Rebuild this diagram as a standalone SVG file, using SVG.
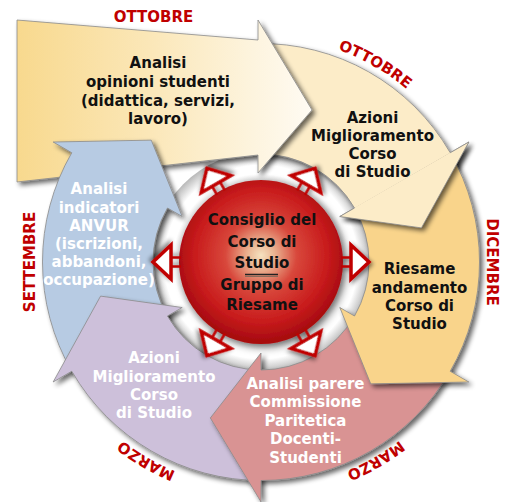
<svg xmlns="http://www.w3.org/2000/svg" width="509" height="502" viewBox="0 0 509 502">
<defs>
<style>
.t{font-family:"DejaVu Sans",Verdana,sans-serif;font-weight:bold;font-size:15px;text-anchor:middle}
.dk{fill:#111}
.wh{fill:#fff}
.mo{fill:#c00000}
.arr{stroke:#8a8a8a;stroke-width:0.8;filter:url(#sh)}
.ra{filter:url(#sh2)}
.ra path.tri{fill:#fff;stroke:#c00000;stroke-width:3.5;stroke-linejoin:miter}
.ra path.stem{fill:none;stroke:#c00000;stroke-width:2.5}
</style>
<filter id="sh" x="-15%" y="-15%" width="135%" height="135%">
<feGaussianBlur in="SourceAlpha" stdDeviation="2.5"/>
<feOffset dx="2.5" dy="2.5" result="b"/>
<feComponentTransfer><feFuncA type="linear" slope="0.6"/></feComponentTransfer>
<feMerge><feMergeNode/><feMergeNode in="SourceGraphic"/></feMerge>
</filter>
<filter id="shonly" x="-15%" y="-15%" width="135%" height="135%">
<feGaussianBlur in="SourceAlpha" stdDeviation="2.5"/>
<feOffset dx="2.5" dy="2.5"/>
<feComponentTransfer><feFuncA type="linear" slope="0.6"/></feComponentTransfer>
</filter>
<filter id="sh2" x="-30%" y="-30%" width="170%" height="170%">
<feGaussianBlur in="SourceAlpha" stdDeviation="2"/>
<feOffset dx="2" dy="2"/>
<feComponentTransfer><feFuncA type="linear" slope="0.5"/></feComponentTransfer>
<feMerge><feMergeNode/><feMergeNode in="SourceGraphic"/></feMerge>
</filter>
<filter id="sh3" x="-20%" y="-20%" width="150%" height="150%">
<feGaussianBlur in="SourceAlpha" stdDeviation="4"/>
<feOffset dx="3" dy="3"/>
<feComponentTransfer><feFuncA type="linear" slope="0.55"/></feComponentTransfer>
<feMerge><feMergeNode/><feMergeNode in="SourceGraphic"/></feMerge>
</filter>
<clipPath id="cpHead">
<path d="M 261 262 L 607.4 62 L 607.4 600 L 261 600 Z"/>
</clipPath>
<clipPath id="cpOr">
<path d="M 261 262 L 607.4 62 L 700 62 L 700 700 L 461 608.4 Z"/>
</clipPath>
<linearGradient id="gy" x1="17" y1="0" x2="312" y2="0" gradientUnits="userSpaceOnUse">
<stop offset="0" stop-color="#f8d98e"/>
<stop offset="0.45" stop-color="#fbe7b8"/>
<stop offset="0.8" stop-color="#fdf4de"/>
<stop offset="1" stop-color="#fffbf3"/>
</linearGradient>
<radialGradient id="gring" cx="261" cy="262" r="110" gradientUnits="userSpaceOnUse">
<stop offset="0.72" stop-color="#d8d8d8"/>
<stop offset="0.8" stop-color="#ffffff"/>
<stop offset="0.88" stop-color="#ffffff"/>
<stop offset="1" stop-color="#b8b8b8"/>
</radialGradient>
<radialGradient id="gsph" cx="0.5" cy="0.46" r="0.52">
<stop offset="0" stop-color="#f5e2c0"/>
<stop offset="0.16" stop-color="#eab391"/>
<stop offset="0.42" stop-color="#d8473b"/>
<stop offset="0.78" stop-color="#c81b1c"/>
<stop offset="1" stop-color="#a80c10"/>
</radialGradient>
<path id="pOtt" d="M 280.70 36.86 A 226 226 0 0 1 446.13 132.37"/>
<path id="pMar1" d="M 446.13 391.63 A 226 226 0 0 1 280.70 487.14"/>
<path id="pMar2" d="M 241.30 487.14 A 226 226 0 0 1 75.87 391.63"/>
</defs>
<rect width="509" height="502" fill="#fff"/>

<g id="hub-ring">
<circle cx="261" cy="262" r="110" fill="url(#gring)"/>
</g>

<g id="node-azioni-ottobre">
<path class="arr" fill="#fcecc8" d="M 257.19 43.53 A 218.5 218.5 0 0 1 450.23 152.75 L 468.85 142 L 421.42 227.9 L 339.81 216.5 L 354.53 208 A 108 108 0 0 0 259.12 154.02 Z"/>
</g>

<g id="node-opinioni">
<path class="arr" fill="url(#gy)" d="M 17 20 L 258 40 L 258 20 L 312 110 L 258 173 L 258 155 L 17 182 Z"/>
<text class="t dk"><tspan x="158" y="68">Analisi</tspan><tspan x="158" y="87">opinioni studenti</tspan><tspan x="158" y="105.5">(didattica, servizi,</tspan><tspan x="158" y="124">lavoro)</tspan></text>
</g>

<g id="node-anvur">
<path class="arr" fill="#b7cbe3" d="M 71.77 371.25 A 218.5 218.5 0 0 1 71.77 152.75 L 53.15 142 L 151.26 140.13 L 182.19 216.5 L 167.47 208 A 108 108 0 0 0 167.47 316 Z"/>
<text class="t wh"><tspan x="99" y="194">Analisi</tspan><tspan x="99" y="212.5">indicatori</tspan><tspan x="99" y="231">ANVUR</tspan><tspan x="99" y="249">(iscrizioni,</tspan><tspan x="99" y="267">abbandoni,</tspan><tspan x="99" y="285">occupazione)</tspan></text>
</g>

<g id="node-azioni-marzo">
<path class="arr" fill="#cdc0da" d="M 261 480.5 A 218.5 218.5 0 0 1 71.77 371.25 L 53.15 382 L 100.58 296.1 L 182.19 307.5 L 167.47 316 A 108 108 0 0 0 261 370 Z"/>
<text class="t wh"><tspan x="154" y="363">Azioni</tspan><tspan x="154" y="382">Miglioramento</tspan><tspan x="154" y="400">Corso</tspan><tspan x="154" y="418">di Studio</tspan></text>
</g>

<g id="node-commissione">
<path class="arr" fill="#d99393" d="M 450.23 371.25 A 218.5 218.5 0 0 1 261 480.5 L 261 502 L 210.32 417.97 L 261 353 L 261 370 A 108 108 0 0 0 354.53 316 Z"/>
<text class="t wh"><tspan x="305.5" y="389">Analisi parere</tspan><tspan x="305.5" y="407">Commissione</tspan><tspan x="305.5" y="426">Paritetica</tspan><tspan x="305.5" y="444">Docenti-</tspan><tspan x="305.5" y="463">Studenti</tspan></text>
</g>

<g id="node-riesame" clip-path="url(#cpOr)">
<path class="arr" fill="#f9d48b" d="M 450.23 152.75 A 218.5 218.5 0 0 1 450.23 371.25 L 468.85 382 L 370.74 383.87 L 339.81 307.5 L 354.53 316 A 108 108 0 0 0 354.53 208 Z"/>
<text class="t dk"><tspan x="419.5" y="274">Riesame</tspan><tspan x="419.5" y="292.5">andamento</tspan><tspan x="419.5" y="311">Corso di</tspan><tspan x="419.5" y="329">Studio</tspan></text>
</g>

<g id="node-azioni-ottobre-head">
<g clip-path="url(#cpHead)">
<path fill="#000" filter="url(#shonly)" d="M 450.23 152.75 L 468.85 142 L 421.42 227.9 L 339.81 216.5 L 354.53 208 Z"/>
</g>
<path fill="#fcecc8" d="M 449.6 153.1 L 450.23 152.75 L 468.85 142 L 421.42 227.9 L 339.81 216.5 L 354.53 208 L 354.9 207.6 Z"/>
<path fill="none" stroke="#8a8a8a" stroke-width="0.8" d="M 450.23 152.75 L 468.85 142 L 421.42 227.9 L 339.81 216.5 L 354.53 208"/>
<text class="t dk"><tspan x="372.5" y="123">Azioni</tspan><tspan x="372.5" y="141">Miglioramento</tspan><tspan x="372.5" y="159">Corso</tspan><tspan x="372.5" y="177">di Studio</tspan></text>
</g>

<g id="node-consiglio">
<circle cx="261" cy="262" r="82" fill="url(#gsph)" filter="url(#sh3)"/>
<text class="t dk"><tspan x="262" y="225">Consiglio del</tspan><tspan x="262" y="247">Corso di</tspan><tspan x="262" y="268">Studio</tspan><tspan x="262" y="290">Gruppo di</tspan><tspan x="262" y="310">Riesame</tspan></text>
<line x1="245" y1="274.5" x2="278" y2="274.5" stroke="#222" stroke-width="1.6"/>
<line x1="245" y1="276.5" x2="278" y2="276.5" stroke="#8a6a5a" stroke-width="1"/>
</g>

<g id="connectors">
<g class="ra" transform="translate(261 262) rotate(0)"><path class="stem" d="M 80 -4.5 H 90 M 80 4.5 H 90"/><path class="tri" d="M 90 -17 L 108 0 L 90 17 Z"/></g>
<g class="ra" transform="translate(261 262) rotate(60)"><path class="stem" d="M 80 -4.5 H 90 M 80 4.5 H 90"/><path class="tri" d="M 90 -17 L 108 0 L 90 17 Z"/></g>
<g class="ra" transform="translate(261 262) rotate(120)"><path class="stem" d="M 80 -4.5 H 90 M 80 4.5 H 90"/><path class="tri" d="M 90 -17 L 108 0 L 90 17 Z"/></g>
<g class="ra" transform="translate(261 262) rotate(180)"><path class="stem" d="M 80 -4.5 H 90 M 80 4.5 H 90"/><path class="tri" d="M 90 -17 L 108 0 L 90 17 Z"/></g>
<g class="ra" transform="translate(261 262) rotate(240)"><path class="stem" d="M 80 -4.5 H 90 M 80 4.5 H 90"/><path class="tri" d="M 90 -17 L 108 0 L 90 17 Z"/></g>
<g class="ra" transform="translate(261 262) rotate(300)"><path class="stem" d="M 80 -4.5 H 90 M 80 4.5 H 90"/><path class="tri" d="M 90 -17 L 108 0 L 90 17 Z"/></g>
</g>

<g id="months">
<text class="t mo" x="153.5" y="22">OTTOBRE</text>
<text class="t mo"><textPath href="#pOtt" startOffset="50%">OTTOBRE</textPath></text>
<text class="t mo" transform="translate(487 262) rotate(90)" x="0" y="0">DICEMBRE</text>
<text class="t mo"><textPath href="#pMar1" startOffset="50%">MARZO</textPath></text>
<text class="t mo"><textPath href="#pMar2" startOffset="50%">MARZO</textPath></text>
<text class="t mo" transform="translate(35 262) rotate(-90)" x="0" y="0">SETTEMBRE</text>
</g>
</svg>
